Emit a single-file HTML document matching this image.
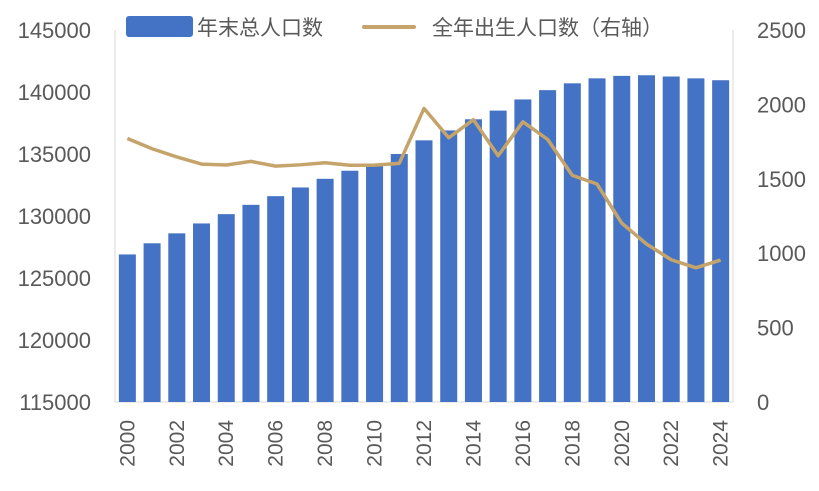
<!DOCTYPE html>
<html><head><meta charset="utf-8"><style>
body{margin:0;background:#fff;}
svg text{font-family:"Liberation Sans","Noto Sans CJK SC",sans-serif;fill:#595959;}
</style></head><body>
<svg id="chart" width="819" height="486" xmlns="http://www.w3.org/2000/svg">
<g id="legend">
<rect x="126" y="16" width="67" height="21" rx="3" fill="#4472C4"/>
<text x="197" y="35" font-size="21">年末总人口数</text>
<line x1="364" y1="27" x2="414" y2="27" stroke="#C5A46B" stroke-width="4" stroke-linecap="round"/>
<text x="432" y="35" font-size="21">全年出生人口数（右轴）</text>
</g>
<g id="axes"></g>
<g id="bars"></g>
<g id="line"></g>
</svg>
<script>
const years=["2000","2001","2002","2003","2004","2005","2006","2007","2008","2009","2010","2011","2012","2013","2014","2015","2016","2017","2018","2019","2020","2021","2022","2023","2024"];
const population=[126900,127800,128600,129400,130150,130900,131600,132300,133000,133650,134200,135000,136100,136900,137800,138500,139400,140150,140700,141100,141300,141350,141250,141100,140950];
const births=[1771,1702,1647,1599,1593,1617,1585,1594,1608,1591,1592,1604,1973,1776,1897,1655,1883,1765,1523,1465,1202,1062,956,902,954];
const leftTicks=[115000,120000,125000,130000,135000,140000,145000];
const rightTicks=[0,500,1000,1500,2000,2500];
const NS="http://www.w3.org/2000/svg";
const x0=115,x1=733,yb=402,yt=30;
const yL=v=>yb-(v-115000)/30000*(yb-yt);
const yR=v=>yb-v/2500*(yb-yt);
const step=(x1-x0)/years.length;
const xC=i=>x0+step*(i+0.5);
function mk(tag,attrs,parent){const e=document.createElementNS(NS,tag);for(const k in attrs)e.setAttribute(k,attrs[k]);parent.appendChild(e);return e;}
const axes=document.getElementById('axes'),bars=document.getElementById('bars'),lineG=document.getElementById('line');
let e=mk('line',{x1:x0,y1:yt,x2:x0,y2:yb,stroke:'#d9d9d9','stroke-width':1},axes);


e=mk('line',{x1:x1,y1:yt,x2:x1,y2:yb,stroke:'#d9d9d9','stroke-width':1},axes);


e=mk('line',{x1:x0,y1:yb,x2:x1,y2:yb,stroke:'#d9d9d9','stroke-width':1},axes);


leftTicks.forEach(v=>{const t=mk('text',{x:91,y:yL(v)+8,'text-anchor':'end','font-size':22},axes);t.textContent=v;

});
rightTicks.forEach(v=>{const t=mk('text',{x:757,y:yR(v)+8,'text-anchor':'start','font-size':22},axes);t.textContent=v;

});
years.forEach((y,i)=>{if(i%2)return;const t=mk('text',{x:0,y:0,'text-anchor':'end','font-size':21,transform:`translate(${xC(i)+7},420) rotate(-90)`},axes);t.textContent=y;

});
const bw=17;
population.forEach((v,i)=>{const r=mk('rect',{x:xC(i)-bw/2,y:yL(v),width:bw,height:yb-yL(v),fill:'#4472C4'},bars);

});
const p=mk('polyline',{points:births.map((v,i)=>xC(i)+','+yR(v)).join(' '),fill:'none',stroke:'#C5A46B','stroke-width':3.5,'stroke-linejoin':'round'},lineG);


</script>
</body></html>
